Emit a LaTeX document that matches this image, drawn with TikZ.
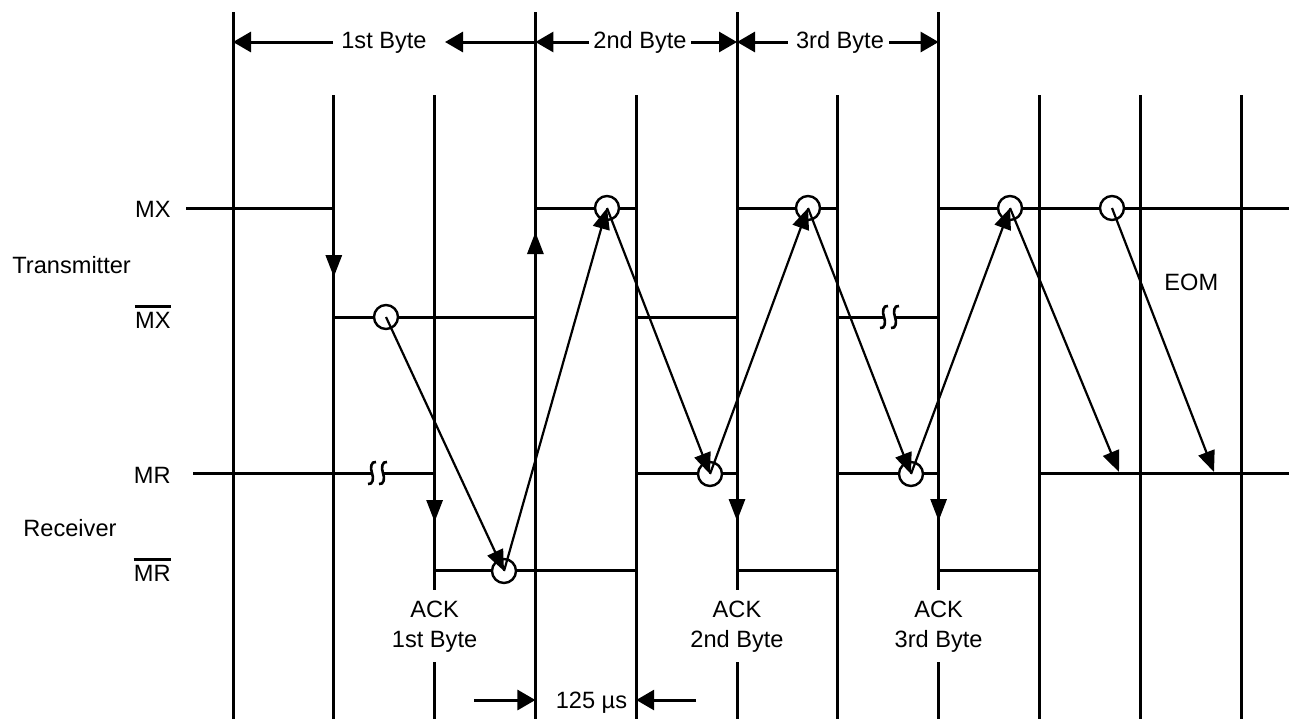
\documentclass[tikz,border=0pt]{standalone}
\usepackage{fontspec}
\setmainfont{Liberation Sans}
\usetikzlibrary{arrows.meta}
\begin{document}
\begin{tikzpicture}[x=0.5pt,y=-0.5pt,
  gridline/.style={line width=1.5pt},
  sig/.style={line width=1.5pt},
  diag/.style={line width=1.1pt,-{Triangle[length=10.5pt,width=8.5pt]}},
  vtip/.style={line width=1.5pt,-{Triangle[length=11pt,width=8pt]}},
  dimarrow/.style={line width=1.5pt,-{Triangle[length=9pt,width=10pt]}},
  ring/.style={circle,draw,fill=white,line width=1.2pt,minimum size=12pt,inner sep=0pt},
  lbl/.style={font=\fontsize{11.8}{14}\selectfont,inner sep=0pt},
  squig/.style={line width=1.3pt},
  barline/.style={line width=1.3pt}
]
\useasboundingbox (0,0) rectangle (1289,719);

% ---- grid lines
\draw[gridline] (233,12) -- (233,719);
\draw[gridline] (333.8,95) -- (333.8,719);
\draw[gridline] (434.6,95) -- (434.6,590) (434.6,662) -- (434.6,719);
\draw[gridline] (535.4,12) -- (535.4,719);
\draw[gridline] (636.2,95) -- (636.2,719);
\draw[gridline] (737,12) -- (737,590) (737,662) -- (737,719);
\draw[gridline] (837.8,95) -- (837.8,719);
\draw[gridline] (938.6,12) -- (938.6,590) (938.6,662) -- (938.6,719);
\draw[gridline] (1039.4,95) -- (1039.4,719);
\draw[gridline] (1140.2,95) -- (1140.2,719);
\draw[gridline] (1241,95) -- (1241,719);

% ---- signal levels
% MX
\draw[sig] (186,208) -- (333.8,208);
\draw[sig] (535.4,208) -- (636.2,208);
\draw[sig] (737,208) -- (837.8,208);
\draw[sig] (938.6,208) -- (1289,208);
% MX bar
\draw[sig] (333.8,317) -- (535.4,317);
\draw[sig] (636.2,317) -- (737,317);
\draw[sig] (837.8,317) -- (884,317);
\draw[sig] (895,317) -- (938.6,317);
% MR
\draw[sig] (193,473) -- (372,473);
\draw[sig] (383,473) -- (434.6,473);
\draw[sig] (636.2,473) -- (737,473);
\draw[sig] (837.8,473) -- (938.6,473);
\draw[sig] (1039.4,473) -- (1289,473);
% MR bar
\draw[sig] (434.6,570) -- (636.2,570);
\draw[sig] (737,570) -- (837.8,570);
\draw[sig] (938.6,570) -- (1039.4,570);

% ---- break marks
\foreach \cx/\cy in {372/473,383/473,884/317,895/317}{
  \draw[squig] (\cx+4,\cy-11) .. controls (\cx-1,\cy-12) and (\cx-2,\cy-5) .. (\cx,\cy)
                .. controls (\cx+2,\cy+5) and (\cx+1,\cy+12) .. (\cx-4,\cy+11);
}

% ---- transition arrows on the grid lines
\draw[vtip] (333.8,254) -- (333.8,277);
\draw[vtip] (535.4,256) -- (535.4,232);
\draw[vtip] (434.6,499) -- (434.6,522);
\draw[vtip] (737,497) -- (737,521);
\draw[vtip] (938.6,497) -- (938.6,521);

% ---- circles
\node[ring] (c1) at (386,317) {};
\node[ring] (c2) at (504,571) {};
\node[ring] (c3) at (607,208) {};
\node[ring] (c4) at (710,474) {};
\node[ring] (c5) at (808,208) {};
\node[ring] (c6) at (911,474) {};
\node[ring] (c7) at (1010,208) {};
\node[ring] (c8) at (1112,208) {};
\coordinate (e1) at (1119,472);
\coordinate (e2) at (1214,472);

% ---- handshake arrows
\draw[diag] (c1.center) -- (c2.center);
\draw[diag] (c2.center) -- (c3.center);
\draw[diag] (c3.center) -- (c4.center);
\draw[diag] (c4.center) -- (c5.center);
\draw[diag] (c5.center) -- (c6.center);
\draw[diag] (c6.center) -- (c7.center);
\draw[diag] (c7.center) -- (e1);
\draw[diag] (c8.center) -- (e2);

% ---- left labels
\node[lbl,anchor=base east] (mx) at (171,217.3) {MX};
\node[lbl,anchor=base west] (tx) at (12,273.3) {Transmitter};
\node[lbl,anchor=base east] (mxb) at (171,328.3) {MX};
\draw[barline] ([yshift=2.7pt]mxb.north west) -- ([yshift=2.7pt]mxb.north east);
\node[lbl,anchor=base east] (mr) at (171,483.3) {MR};
\node[lbl,anchor=base west] (rx) at (23,536.7) {Receiver};
\node[lbl,anchor=base east] (mrb) at (171,581.7) {MR};
\draw[barline] ([yshift=2.7pt]mrb.north west) -- ([yshift=2.7pt]mrb.north east);

% ---- byte labels on top
\node[lbl,anchor=base] (b1) at (384,48.5) {1st Byte};
\node[lbl,anchor=base] (b2) at (640,48.5) {2nd Byte};
\node[lbl,anchor=base] (b3) at (840,48.5) {3rd Byte};
\coordinate (t0) at (233,42);
\coordinate (t1) at (333,42);
\coordinate (t2) at (535.4,42);
\coordinate (t2a) at (445,42);
\coordinate (t3) at (737,42);
\coordinate (t4) at (938.6,42);
\draw[dimarrow] (t1) -- (t0);
\draw[dimarrow] (t2) -- (t2a);
\draw[dimarrow] ([xshift=-2pt]b2.west |- t2) -- (t2);
\draw[dimarrow] ([xshift=2pt]b2.east |- t3) -- (t3);
\draw[dimarrow] ([xshift=-4pt]b3.west |- t3) -- (t3);
\draw[dimarrow] ([xshift=2.5pt]b3.east |- t4) -- (t4);

% ---- ACK labels
\node[lbl,anchor=base] (a1) at (434.6,617.5) {ACK};
\node[lbl,anchor=base] (a1b) at (434.6,647) {1st Byte};
\node[lbl,anchor=base] (a2) at (737,617.5) {ACK};
\node[lbl,anchor=base] (a2b) at (737,647) {2nd Byte};
\node[lbl,anchor=base] (a3) at (938.6,617.5) {ACK};
\node[lbl,anchor=base] (a3b) at (938.6,647) {3rd Byte};

% ---- EOM
\node[lbl,anchor=base west] (eom) at (1164,290) {EOM};

% ---- 125 us
\node[lbl,anchor=base] (us) at (591.5,708) {125 µs};
\coordinate (u0) at (474,700);
\coordinate (u1) at (535.4,700);
\coordinate (u2) at (696,700);
\coordinate (u3) at (636.2,700);
\draw[dimarrow] (u0) -- (u1);
\draw[dimarrow] (u2) -- (u3);
\end{tikzpicture}
\end{document}
